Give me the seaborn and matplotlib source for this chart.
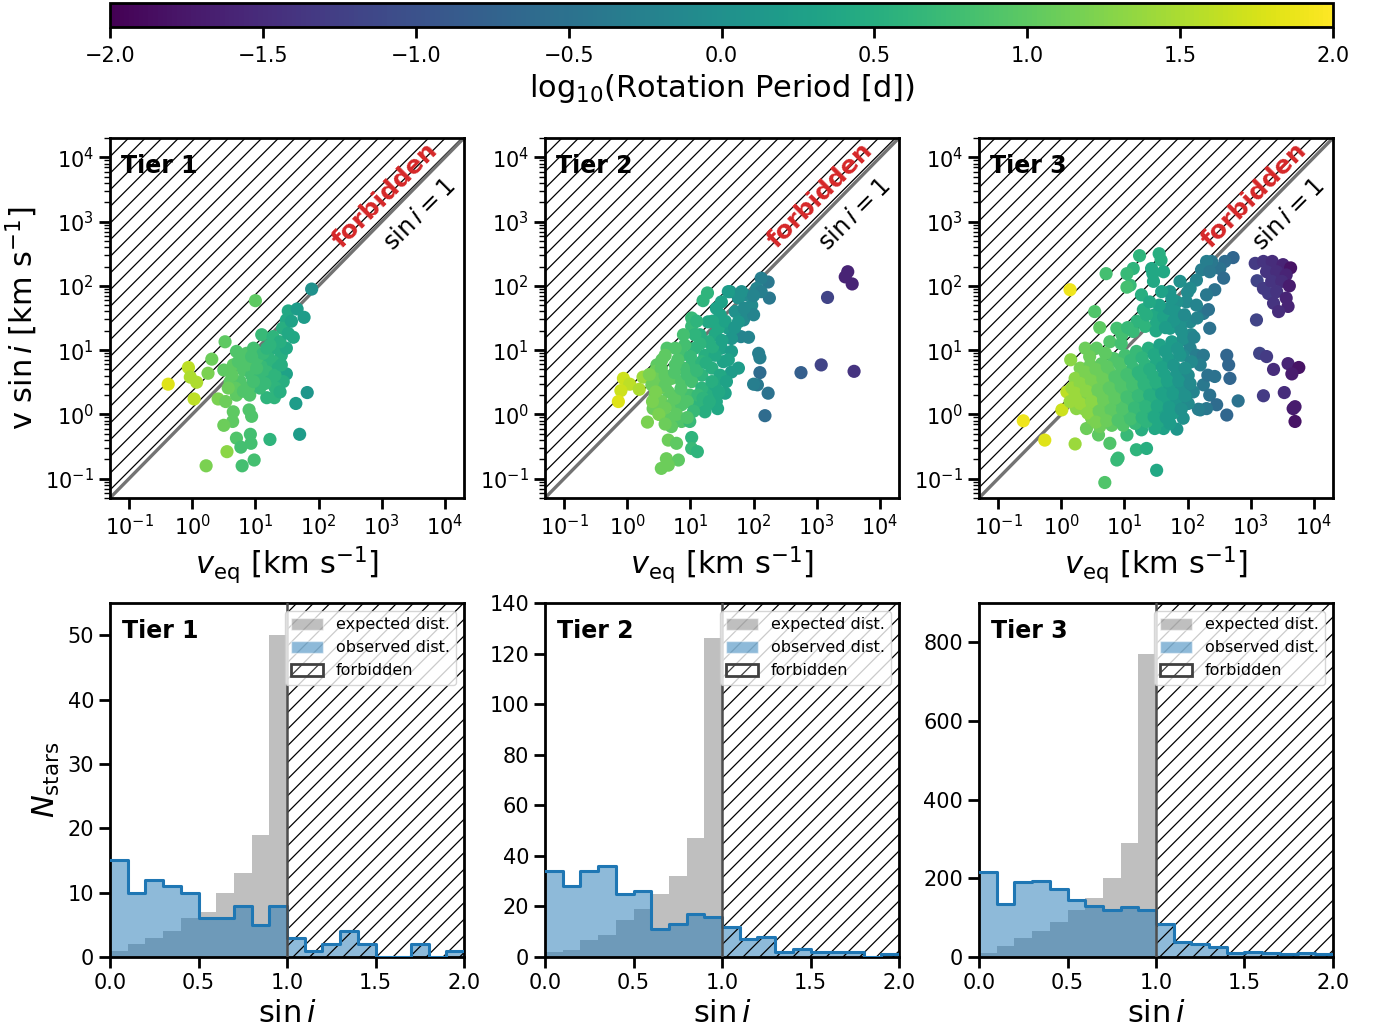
import numpy as np
import pandas as pd
import matplotlib
matplotlib.use("Agg")
import matplotlib.pyplot as plt
from matplotlib.patches import Patch
from matplotlib.colors import Normalize
from matplotlib.cm import ScalarMappable
import seaborn as sns

# ---------------------------------------------------------------------------
# Data: log10 equatorial velocity, log10 v sin i (km/s) and log10 P_rot (d)
# ---------------------------------------------------------------------------
t1_log_veq = [1.89, 1.00, 1.52, 1.66, 1.77, 1.49, 1.43, 1.60, 1.10, 1.28,
              0.52, 0.70, 0.86, 0.97, 0.31, -0.06, 0.25, -0.03, 0.07, -0.38,
              0.03, 0.41, 0.53, 0.50, 0.65, 0.60, 0.76, 0.70, 0.91, 0.81,
              0.94, 1.07, 1.15, 1.20, 1.34, 1.41, 1.49, 1.28, 1.36, 1.49,
              1.44, 1.31, 1.18, 1.30, 1.82, 1.64, 1.70, 0.65, 0.90, 0.94,
              0.64, 0.50, 0.70, 0.92, 0.93, 0.77, 1.23, 0.55, 0.98, 0.79,
              0.22, 0.86, 1.02, 1.18, 1.23, 1.07, 0.89, 0.68, 0.63, 1.02,
              1.39, 1.52, 1.23, 1.12, 1.31, 1.15, 0.97, 0.81, 0.57, 1.39,
              1.57, 0.73, 1.41, 1.18, 0.94]
t1_log_vsini = [1.95, 1.77, 1.61, 1.64, 1.51, 1.47, 1.34, 1.20, 1.24, 1.21,
                1.13, 0.98, 0.95, 1.03, 0.86, 0.73, 0.64, 0.58, 0.50, 0.47,
                0.24, 0.24, 0.20, 0.69, 0.77, 0.51, 0.51, 0.30, 0.30, 0.69,
                0.61, 0.56, 0.77, 0.92, 1.03, 0.92, 1.03, 0.82, 0.72, 0.63,
                0.51, 0.42, 0.26, 0.26, 0.34, 0.17, -0.31, 0.04, 0.07, -0.03,
                -0.11, -0.17, -0.37, -0.31, -0.45, -0.51, -0.39, -0.58, -0.71, -0.80,
                -0.80, 0.77, 0.87, 0.66, 0.51, 0.41, 0.41, 0.41, 0.61, 0.72,
                1.13, 1.26, 1.08, 0.95, 0.61, 0.48, 0.51, 0.36, 0.41, 0.35,
                1.45, 0.82, 0.77, 1.03, 0.90]
t1_log_prot = [0.0, 1.0, 0.4, 0.2, 0.2, 0.4, 0.5, 0.4, 0.7, 0.6,
               1.0, 0.9, 0.9, 0.8, 1.1, 1.6, 1.2, 1.5, 1.5, 1.8,
               1.6, 1.2, 1.1, 1.0, 1.0, 1.0, 0.9, 1.0, 0.9, 0.9,
               0.8, 0.7, 0.7, 0.6, 0.5, 0.5, 0.4, 0.6, 0.5, 0.3,
               0.5, 0.6, 0.6, 0.6, 0.1, 0.2, 0.2, 1.0, 0.9, 0.9,
               1.0, 1.1, 0.9, 0.8, 0.8, 0.8, 0.6, 1.3, 0.8, 0.8,
               1.2, 0.9, 0.8, 0.7, 0.6, 0.7, 0.9, 1.0, 1.0, 0.8,
               0.5, 0.4, 0.6, 0.7, 0.6, 0.7, 0.8, 0.9, 1.1, 0.5,
               0.3, 0.9, 0.5, 0.6, 0.8]

t2_log_veq = [3.49, 3.45, 3.56, 3.17, 3.07, 3.59, 2.75, 2.10, 2.18, 2.23,
              2.06, 2.00, 2.08, 2.10, 1.92, 1.80, 2.25, 2.23, 2.12, 2.05,
              1.97, 1.84, 1.86, 1.76, 1.63, 1.71, 1.60, 1.47, 1.28, 1.27,
              1.20, 1.02, 1.15, 1.39, 1.49, 1.52, 1.65, 1.55, 1.41, 1.43,
              1.28, 1.12, 1.28, 1.39, 1.18, 1.34, 1.23, 1.07, 0.91, 0.86,
              1.02, 0.89, 0.76, 0.63, 0.47, 0.44, 0.54, 0.70, 0.86, 1.02,
              1.18, 0.99, 0.81, 0.65, 0.52, 0.44, 0.54, 0.70, 0.86, 0.54,
              0.70, 0.86, 0.99, 0.70, 0.32, 1.02, 0.65, 0.78, 1.02, 1.11,
              0.62, 0.81, 0.54, 0.65, -0.06, 0.04, -0.10, -0.14, 0.19, 0.25,
              1.60, 1.92, 2.00, 2.12, 1.76, 1.65, 1.44, 1.28, 1.39, 1.07,
              1.02, 0.89, 0.76, 0.60, 1.18, 1.47, 1.34, 1.65, 1.57, 1.76,
              1.12, 1.23, 0.39, 0.41, 1.81, 1.49, 1.41,
              # dense core
              0.45, 0.60, 0.75, 0.95, 1.10, 1.25, 0.40, 0.60, 0.75, 0.95,
              1.05, 1.20, 0.50, 0.78, 0.95, 0.60, 0.85, 0.60, 1.35, 1.15,
              1.00, 0.80, 0.55, 1.50, 1.30, 1.45, 0.35, 0.45, 1.60, 1.55,
              1.70, 1.85, 2.00, 1.35, 1.10]
t2_log_vsini = [2.22, 2.14, 2.03, 1.82, 0.77, 0.67, 0.65, 0.65, -0.02, 0.33,
                0.46, 0.47, 0.95, 0.88, 1.20, 1.21, 1.81, 2.06, 2.12, 1.96,
                1.70, 1.47, 1.86, 1.81, 1.91, 1.60, 1.34, 1.55, 1.44, 1.89,
                1.77, 1.37, 1.24, 1.24, 1.03, 0.82, 0.66, 0.33, 0.20, 0.09,
                0.17, 0.15, 0.33, 0.46, 0.61, 0.72, 0.92, 1.03, 1.08, 0.92,
                0.77, 0.72, 0.77, 1.03, 0.77, 0.67, 0.72, 0.56, 0.51, 0.51,
                0.41, 0.30, 0.30, 0.35, 0.41, 0.30, 0.20, 0.15, 0.15, -0.01,
                -0.06, -0.11, -0.11, -0.19, -0.12, -0.36, -0.40, -0.45, -0.53, -0.58,
                -0.69, -0.71, -0.84, -0.79, 0.56, 0.47, 0.37, 0.20, 0.39, 0.58,
                1.91, 1.60, 1.55, 1.91, 1.44, 1.18, 1.34, 1.13, 0.92, 1.24,
                1.50, 1.24, 1.03, 0.92, 0.82, 0.61, 0.51, 0.98, 0.51, 0.72,
                0.30, 0.04, 0.46, 0.09, 1.91, 1.75, 1.65,
                0.55, 0.60, 0.65, 0.62, 0.68, 0.80, 0.20, 0.10, 0.25, 0.20,
                0.05, 0.25, 0.00, 0.00, -0.05, -0.15, 0.40, 0.45, 1.05, 1.10,
                0.90, 0.85, 0.85, 1.15, 0.20, 0.35, 0.62, 0.35, 0.85, 1.45,
                1.35, 1.65, 1.85, 1.45, 1.45]
t2_log_prot = [-1.6, -1.6, -1.6, -1.2, -1.2, -1.4, -0.8, -0.6, -0.6, -0.5,
               -0.4, -0.3, -0.3, -0.3, -0.2, -0.2, -0.4, -0.4, -0.3, -0.2,
               -0.1, -0.1, -0.1, 0.0, 0.1, 0.0, 0.2, 0.3, 0.4, 0.6,
               0.6, 0.7, 0.5, 0.4, 0.3, 0.3, 0.2, 0.3, 0.4, 0.4,
               0.5, 0.6, 0.5, 0.4, 0.6, 0.5, 0.5, 0.6, 0.8, 0.8,
               0.7, 0.8, 0.9, 0.9, 1.0, 1.1, 1.0, 1.0, 0.9, 0.8,
               0.6, 0.8, 0.9, 1.0, 1.1, 1.1, 1.1, 1.0, 0.9, 1.1,
               1.0, 0.9, 0.7, 1.0, 1.2, 0.6, 1.1, 1.0, 0.7, 0.6,
               1.1, 1.0, 1.1, 1.1, 1.7, 1.6, 1.7, 1.8, 1.5, 1.4,
               0.2, -0.1, -0.2, -0.3, 0.1, 0.1, 0.4, 0.5, 0.4, 0.6,
               0.7, 0.8, 0.9, 1.0, 0.6, 0.4, 0.5, 0.2, 0.3, 0.2,
               0.7, 0.5, 1.1, 1.1, 0.0, 0.3, 0.3,
               1.1, 1.0, 0.9, 0.8, 0.7, 0.5, 1.2, 1.1, 1.0, 0.9,
               0.7, 0.6, 1.2, 1.0, 0.9, 1.1, 0.9, 1.0, 0.5, 0.6,
               0.7, 0.9, 1.0, 0.3, 0.5, 0.4, 1.2, 1.2, 0.3, 0.3,
               0.1, -0.1, -0.2, 0.4, 0.6]

t3_log_veq = [
    # fast rotators, far right
    3.07, 3.20, 3.34, 3.51, 3.63, 3.25, 3.41, 3.56, 3.10, 3.20,
    3.33, 3.49, 3.61, 3.28, 3.41, 3.56, 3.36, 3.59, 3.44, 3.09,
    3.14, 3.25, 3.36, 3.59, 3.76, 3.65, 3.20, 3.53, 3.70, 3.67, 3.70,
    # upper branch along the diagonal
    2.72, 2.59, 2.51, 2.57, 2.38, 2.30, 2.22, 2.35, 2.43, 2.30,
    2.25, 2.33, 2.35, 2.14, 2.04, 1.98, 2.14, 2.04, 1.93, 1.83,
    1.72, 1.88, 2.01, 2.04, 2.14, 2.25, 2.20, 2.25, 2.43, 2.32,
    2.62, 2.65, 2.67, 2.35, 2.46, 2.62, 2.80, 2.20, 2.30, 1.93, 2.06,
    # above the diagonal
    1.24, 1.55, 1.58, 1.43, 1.45, 1.62, 1.14, 1.04, 0.71, 1.09,
    1.04, 1.27, 1.46, 1.59, 0.14, 0.53, 0.61, 1.30, 1.48, 1.67,
    # slow rotators, left edge
    -0.60, -0.26, 0.01, 0.09, 0.15, 0.22, 0.38,
    # low v sin i tail
    0.69, 1.51, 0.90, 0.88, 1.19, 1.35, 1.62, 1.83, 1.48, 2.17,
    1.93, 1.72, 0.77, 0.59, 0.40, 1.04, 1.27, 0.24, 0.14,
    # main cloud
    0.30, 0.46, 0.64, 0.83, 1.01, 1.19, 1.38, 1.56, 1.75, 1.93,
    0.77, 0.96, 1.14, 1.33, 1.51, 1.72, 1.88, 0.88, 0.56,
    0.22, 0.40, 0.59, 0.77, 0.96, 1.14, 1.33, 1.51, 1.70, 1.88, 2.06,
    0.17, 0.35, 0.53, 0.72, 0.90, 1.09, 1.27, 1.46, 1.64, 1.83, 2.01,
    0.25, 0.43, 0.61, 0.80, 0.98, 1.17, 1.35, 1.54, 1.72, 1.91, 2.09,
    0.35, 0.53, 0.72, 0.90, 1.09, 1.27, 1.46, 1.64, 1.83, 2.01,
    0.48, 0.67, 0.85, 1.04, 1.22, 1.40, 1.59, 1.77,
    0.61, 0.80, 0.98, 1.17, 1.35, 1.54, 1.72,
    1.50, 1.62, 1.78, 1.70, 2.00,
    0.38, 0.55, 0.73, 0.92, 1.10, 1.28, 1.47, 1.65, 1.84,
    0.30, 0.48, 0.66, 0.85, 1.04, 1.22, 1.40, 1.60, 1.78, 1.96,
    0.22, 0.40, 0.58, 0.76, 0.95, 1.13, 1.31, 1.50, 1.68, 1.86, 2.04,
    0.30, 0.48, 0.67, 0.85, 1.04, 1.22, 1.40, 1.59, 1.77, 1.96,
    0.42, 0.60, 0.79, 0.97, 1.16, 1.34, 1.52, 1.71, 1.90,
    0.55, 0.72, 0.90, 1.10, 1.28, 1.47, 1.66,
    1.20, 1.05, 1.35, 1.80, 1.90, 1.65, 1.55, 1.40, 1.75, 1.95,
    2.10, 2.15, 0.95, 0.70, 0.45]
t3_log_vsini = [
    2.35, 2.38, 2.38, 2.33, 2.28, 2.22, 2.22, 2.17, 2.08, 1.96,
    2.07, 2.07, 2.00, 1.88, 1.91, 1.81, 1.73, 1.68, 1.60, 1.47,
    0.95, 0.90, 0.70, 0.79, 0.73, 0.63, 0.29, 0.34, 0.12, 0.09, -0.11,
    2.44, 2.38, 2.27, 2.12, 2.38, 2.38, 2.25, 2.22, 1.94, 1.86,
    1.57, 1.63, 1.34, 2.09, 1.96, 1.75, 1.70, 1.44, 1.52, 1.75,
    1.91, 2.07, 1.13, 1.03, 0.92, 0.92, 0.77, 0.46, 0.59, 0.61,
    0.92, 0.77, 0.56, 0.30, 0.15, -0.01, 0.21, 0.07, 0.09, 0.92, 1.24,
    2.47, 2.50, 2.40, 2.27, 2.19, 2.22, 2.27, 2.19, 2.19, 2.01,
    1.98, 1.86, 2.07, 1.91, 1.94, 1.60, 1.35, 1.63, 1.55, 1.60,
    -0.10, -0.40, 0.07, 0.35, 0.85, -0.46, 1.03,
    -1.06, -0.87, -0.68, -0.71, -0.55, -0.53, -0.22, -0.23, -0.22, 0.08,
    -0.06, -0.01, -0.45, -0.32, -0.22, -0.32, -0.24, 0.09, 0.20,
    0.72, 0.77, 0.79, 0.87, 0.92, 0.98, 1.03, 1.08, 1.13, 1.18,
    1.13, 1.24, 1.29, 1.37, 1.44, 1.34, 1.39, 1.34, 1.03,
    0.56, 0.59, 0.61, 0.65, 0.69, 0.72, 0.77, 0.82, 0.87, 0.92, 0.82,
    0.41, 0.43, 0.46, 0.48, 0.51, 0.54, 0.56, 0.59, 0.61, 0.64, 0.61,
    0.25, 0.28, 0.30, 0.33, 0.35, 0.37, 0.38, 0.41, 0.43, 0.41, 0.35,
    0.09, 0.12, 0.15, 0.17, 0.20, 0.20, 0.23, 0.23, 0.20, 0.17,
    -0.06, -0.03, -0.01, -0.01, 0.02, 0.04, 0.04, 0.02,
    -0.19, -0.17, -0.17, -0.14, -0.11, -0.11, -0.14,
    1.30, 1.52, 1.45, 1.65, 1.90,
    0.66, 0.70, 0.74, 0.79, 0.84, 0.88, 0.93, 0.98, 1.02,
    0.48, 0.52, 0.55, 0.58, 0.62, 0.65, 0.70, 0.73, 0.76, 0.72,
    0.33, 0.36, 0.38, 0.41, 0.43, 0.45, 0.47, 0.50, 0.52, 0.52, 0.48,
    0.17, 0.20, 0.22, 0.25, 0.27, 0.29, 0.30, 0.32, 0.32, 0.29,
    0.02, 0.05, 0.07, 0.08, 0.10, 0.12, 0.13, 0.11, 0.08,
    -0.12, -0.10, -0.09, -0.07, -0.05, -0.04, -0.05,
    1.45, 1.35, 1.55, 1.60, 1.30, 1.35, 1.70, 1.75, 1.80, 1.55,
    1.20, 1.50, 1.10, 0.95, 0.90]
t3_log_prot = [
    -1.3, -1.4, -1.5, -1.6, -1.8, -1.4, -1.5, -1.6, -1.2, -1.3,
    -1.4, -1.5, -1.7, -1.3, -1.4, -1.6, -1.4, -1.6, -1.5, -1.2,
    -1.2, -1.3, -1.5, -1.6, -1.8, -1.7, -1.3, -1.5, -1.7, -1.7, -1.8,
    -0.7, -0.6, -0.5, -0.6, -0.4, -0.3, -0.3, -0.4, -0.5, -0.4,
    -0.4, -0.5, -0.5, -0.2, -0.1, -0.1, -0.2, -0.1, 0.0, 0.0,
    0.1, 0.0, -0.2, -0.2, -0.3, -0.4, -0.3, -0.4, -0.5, -0.5,
    -0.7, -0.7, -0.7, -0.5, -0.6, -0.7, -0.5, -0.3, -0.4, -0.1, -0.1,
    0.6, 0.5, 0.5, 0.4, 0.4, 0.4, 0.6, 0.7, 0.8, 0.7,
    0.8, 0.5, 0.4, 0.3, 1.9, 0.9, 1.0, 0.5, 0.4, 0.2,
    1.9, 1.8, 1.7, 1.6, 1.3, 1.4, 1.1,
    0.9, 0.4, 0.7, 0.7, 0.6, 0.5, 0.3, 0.1, 0.4, -0.3,
    0.0, 0.2, 0.9, 1.0, 1.1, 0.7, 0.5, 1.3, 1.4,
    1.2, 1.1, 1.0, 0.9, 0.8, 0.7, 0.5, 0.3, 0.2, 0.0,
    0.9, 0.8, 0.7, 0.6, 0.4, 0.2, 0.0, 0.8, 1.0,
    1.3, 1.2, 1.1, 1.0, 0.9, 0.7, 0.6, 0.4, 0.2, 0.1, -0.1,
    1.4, 1.3, 1.2, 1.0, 0.9, 0.8, 0.6, 0.5, 0.3, 0.1, -0.1,
    1.4, 1.2, 1.1, 1.0, 0.9, 0.7, 0.6, 0.4, 0.2, 0.0, -0.2,
    1.3, 1.2, 1.0, 0.9, 0.8, 0.6, 0.5, 0.3, 0.1, -0.1,
    1.2, 1.1, 1.0, 0.8, 0.7, 0.5, 0.3, 0.2,
    1.1, 1.0, 0.9, 0.7, 0.6, 0.4, 0.2,
    0.4, 0.3, 0.1, 0.1, -0.1,
    1.2, 1.1, 1.0, 0.9, 0.7, 0.6, 0.4, 0.2, 0.1,
    1.3, 1.2, 1.1, 0.9, 0.8, 0.6, 0.5, 0.3, 0.1, 0.0,
    1.4, 1.3, 1.1, 1.0, 0.9, 0.8, 0.6, 0.5, 0.3, 0.1, -0.1,
    1.4, 1.3, 1.1, 1.0, 0.8, 0.7, 0.5, 0.3, 0.2, 0.0,
    1.3, 1.1, 1.0, 0.9, 0.7, 0.6, 0.4, 0.2, 0.0,
    1.2, 1.1, 0.9, 0.8, 0.6, 0.4, 0.2,
    0.6, 0.7, 0.5, 0.1, 0.0, 0.2, 0.3, 0.4, 0.1, -0.1,
    -0.2, -0.2, 0.8, 1.0, 1.1]

# sin i histograms: 20 bins of width 0.1 on [0, 2]
sini_centers = [0.05, 0.15, 0.25, 0.35, 0.45, 0.55, 0.65, 0.75, 0.85, 0.95,
                1.05, 1.15, 1.25, 1.35, 1.45, 1.55, 1.65, 1.75, 1.85, 1.95]
t1_observed = [15, 10, 12, 11, 10, 6, 6, 8, 5, 8, 3, 1, 2, 4, 2, 0, 0, 2, 0, 1]
t1_expected = [0.9, 2.0, 2.9, 4.0, 6.0, 7.0, 10.0, 13.0, 19.0, 50.0]
t2_observed = [34, 28, 34, 36, 25, 26, 11, 13, 17, 16, 12, 7, 8, 2, 3, 2, 2, 2, 0, 1]
t2_expected = [2.1, 2.9, 6.8, 8.8, 14.6, 18.9, 24.9, 32.0, 46.9, 126.0]
t3_observed = [215, 134, 191, 194, 172, 145, 129, 119, 128, 119,
               83, 39, 32, 26, 9, 13, 11, 8, 9, 8]
t3_expected = [9, 28, 48, 66, 90, 120, 151, 202, 291, 770]

tiers = ["Tier 1", "Tier 2", "Tier 3"]
scatter_data = [(t1_log_veq, t1_log_vsini, t1_log_prot),
                (t2_log_veq, t2_log_vsini, t2_log_prot),
                (t3_log_veq, t3_log_vsini, t3_log_prot)]
hist_data = [(t1_observed, t1_expected), (t2_observed, t2_expected),
             (t3_observed, t3_expected)]
hist_ylims = [55, 140, 900]
hist_yticks = [np.arange(0, 51, 10), np.arange(0, 141, 20), np.arange(0, 801, 200)]

# ---------------------------------------------------------------------------
# Style
# ---------------------------------------------------------------------------
sns.set_style("ticks")
plt.rcParams.update({
    "font.family": ["DejaVu Sans"],
    "mathtext.fontset": "dejavusans",
    "text.color": "black",
    "axes.labelcolor": "black",
    "axes.edgecolor": "black",
    "xtick.color": "black",
    "ytick.color": "black",
    "axes.linewidth": 2.0,
    "hatch.linewidth": 0.9,
    "hatch.color": "black",
})

cmap = "viridis"
norm = Normalize(vmin=-2, vmax=2)
red = "#d62728"
TICK_FS = 15
LABEL_FS = 22

fig = plt.figure(figsize=(13.75, 10.34), dpi=100)

W, H = 1375.0, 1034.0
def px_axes(x0, y0, x1, y1):
    return fig.add_axes([x0 / W, 1 - y1 / H, (x1 - x0) / W, (y1 - y0) / H])

lefts = [110, 545, 979]
top_axes = [px_axes(l, 138, l + 354, 498) for l in lefts]
bot_axes = [px_axes(l, 603, l + 354, 957) for l in lefts]
cax = px_axes(110, 3, 1333, 27)

# ---------------------------------------------------------------------------
# v sin i versus v_eq
# ---------------------------------------------------------------------------
line = np.logspace(-3, 6, 200)
for ax, name, (lv, ls, lp) in zip(top_axes, tiers, scatter_data):
    df = pd.DataFrame({"veq": 10 ** np.array(lv),
                       "vsini": 10 ** np.array(ls),
                       "logP": lp})
    ax.set_xscale("log")
    ax.set_yscale("log")
    ax.fill_between(line, line, 1e7, facecolor="none", edgecolor="black",
                    hatch="//", linewidth=0.8, zorder=1)
    ax.plot(line, line, color="0.45", lw=2.4, zorder=2)
    sns.scatterplot(data=df, x="veq", y="vsini", hue="logP", palette=cmap,
                    hue_norm=(-2, 2), s=90, linewidth=0, legend=False,
                    ax=ax, zorder=3)
    ax.set_xlim(0.05, 2e4)
    ax.set_ylim(0.05, 2e4)
    ax.set_xticks([1e-1, 1e0, 1e1, 1e2, 1e3, 1e4])
    ax.set_yticks([1e-1, 1e0, 1e1, 1e2, 1e3, 1e4])
    ax.tick_params(which="major", length=8, width=2, labelsize=TICK_FS)
    ax.tick_params(which="minor", length=4, width=1)
    ax.set_xlabel(r"$v_{\rm eq}$ [km s$^{-1}$]", fontsize=LABEL_FS)
    ax.set_ylabel("")
    ax.text(0.03, 0.955, name, transform=ax.transAxes, fontsize=17,
            fontweight="bold", va="top", ha="left")
    ax.text(10 ** 3.05, 10 ** 3.41, "forbidden", color=red, fontsize=18,
            fontweight="bold", rotation=45, ha="center", va="center",
            rotation_mode="anchor")
    ax.text(10 ** 3.59, 10 ** 3.10, r"$\sin i = 1$", fontsize=17.5,
            rotation=45, ha="center", va="center", rotation_mode="anchor")
    for sp in ax.spines.values():
        sp.set_linewidth(2)

top_axes[0].set_ylabel(r"v $\sin i$ [km s$^{-1}$]", fontsize=LABEL_FS)

# ---------------------------------------------------------------------------
# sin i distributions
# ---------------------------------------------------------------------------
for ax, name, (obs, exp), ytop, yt in zip(bot_axes, tiers, hist_data,
                                            hist_ylims, hist_yticks):
    exp_df = pd.DataFrame({"sini": sini_centers[:len(exp)],
                           "n": np.asarray(exp, dtype=float)})
    obs_df = pd.DataFrame({"sini": sini_centers,
                           "n": np.asarray(obs, dtype=float)})
    hist_kw = dict(x="sini", weights="n", binwidth=0.1, binrange=(0, 2), ax=ax)
    sns.histplot(data=exp_df, color="gray", alpha=0.5, element="bars",
                 linewidth=0, zorder=1, **hist_kw)
    sns.histplot(data=obs_df, color="C0", alpha=0.5, element="step",
                 fill=True, linewidth=0, zorder=2, **hist_kw)
    sns.histplot(data=obs_df, color="C0", element="step", fill=False,
                 linewidth=2.2, zorder=4, **hist_kw)
    ax.axvspan(1.0, 2.0, facecolor="none", edgecolor="black", hatch="//",
               linewidth=0, zorder=3)
    ax.axvline(1.0, color="0.3", lw=1.8, zorder=5)
    ax.set_xlim(0, 2)
    ax.set_ylim(0, ytop)
    ax.set_xticks([0.0, 0.5, 1.0, 1.5, 2.0])
    ax.set_yticks(yt)
    ax.tick_params(which="major", length=8, width=2, labelsize=TICK_FS)
    ax.set_xlabel(r"$\sin i$", fontsize=LABEL_FS)
    ax.set_ylabel("")
    ax.text(0.035, 0.955, name, transform=ax.transAxes, fontsize=17,
            fontweight="bold", va="top", ha="left")
    handles = [Patch(facecolor="gray", alpha=0.5, label="expected dist."),
               Patch(facecolor="C0", alpha=0.5, label="observed dist."),
               Patch(facecolor="white", edgecolor="0.25", hatch="//",
                     linewidth=2, label="forbidden")]
    ax.legend(handles=handles, loc="upper right", fontsize=11.5,
              handlelength=2.0, handleheight=0.8, borderaxespad=0.5)
    for sp in ax.spines.values():
        sp.set_linewidth(2)

bot_axes[0].set_ylabel(r"$N_{\rm stars}$", fontsize=LABEL_FS)

# ---------------------------------------------------------------------------
# Colour bar
# ---------------------------------------------------------------------------
sm = ScalarMappable(norm=norm, cmap=cmap)
cb = fig.colorbar(sm, cax=cax, orientation="horizontal")
cb.set_ticks([-2.0, -1.5, -1.0, -0.5, 0.0, 0.5, 1.0, 1.5, 2.0])
cb.ax.tick_params(length=8, width=2, labelsize=TICK_FS, pad=6)
cb.outline.set_linewidth(2)
cb.set_label(r"log$_{10}$(Rotation Period [d])", fontsize=LABEL_FS)

fig.savefig("out.png", dpi=100)
